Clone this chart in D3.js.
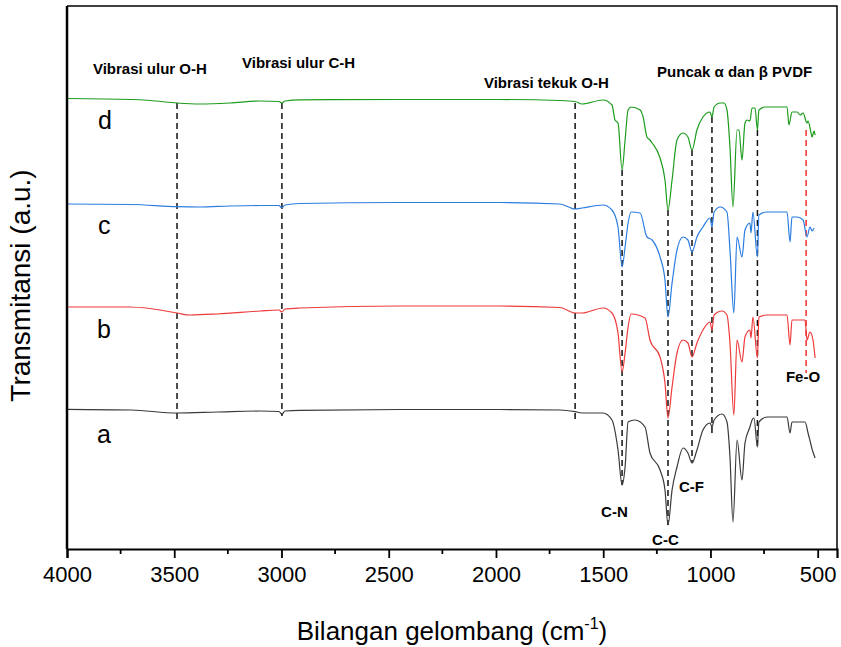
<!DOCTYPE html>
<html>
<head>
<meta charset="utf-8">
<script src="https://cdn.jsdelivr.net/npm/d3@7"></script>
<style>
  body { margin: 0; background: #fff; }
  svg text { font-family: Arial, "Liberation Sans", sans-serif; }
</style>
</head>
<body>
<div id="chart"></div>
<script>
// FTIR spectra, [wavenumber, transmittance (a.u., offset)]
const specD = [[4000,4.505],[3700,4.495],[3613,4.485],[3487,4.46],[3380,4.45],[3240,4.46],[3100,4.48],[3012,4.475],[2998,4.46],[2984,4.48],[2914,4.492],[2447,4.495],[1981,4.495],[1701,4.485],[1631,4.475],[1599,4.45],[1501,4.49],[1459,4.44],[1445,4.29],[1431,4.26],[1412,3.79],[1398,4.09],[1384,4.39],[1370,4.42],[1328,4.39],[1314,4.32],[1296,4.12],[1282,4.09],[1272,4.06],[1235,3.91],[1212,3.69],[1198,3.39],[1179,3.69],[1156,4.09],[1128,4.16],[1105,4.12],[1086,3.99],[1063,4.19],[1035,4.32],[1002,4.37],[993,4.32],[983,4.42],[955,4.46],[937,4.46],[923,4.39],[909,4.02],[895,3.42],[876,4.19],[867,4.19],[853,3.89],[839,4.26],[830,4.29],[816,4.28],[806,4.41],[792,4.41],[781,4.19],[774,4.39],[746,4.42],[690,4.42],[643,4.42],[634,4.24],[620,4.37],[596,4.37],[582,4.34],[568,4.36],[550,4.26],[545,4.28],[531,4.16],[526,4.12],[517,4.18],[512,4.14]];

const specC = [[4000,3.45],[3700,3.445],[3487,3.423],[3380,3.42],[3240,3.43],[3100,3.435],[3012,3.435],[2998,3.41],[2984,3.44],[2914,3.455],[2447,3.465],[1981,3.465],[1701,3.45],[1631,3.40],[1599,3.41],[1501,3.44],[1459,3.39],[1431,3.22],[1412,2.82],[1398,3.02],[1384,3.26],[1370,3.37],[1328,3.36],[1296,3.12],[1272,3.09],[1235,2.92],[1212,2.69],[1198,2.32],[1179,2.66],[1156,2.99],[1128,3.12],[1105,3.09],[1086,2.97],[1063,3.12],[1035,3.22],[1002,3.31],[993,3.22],[983,3.37],[955,3.42],[923,3.37],[909,2.99],[891,2.36],[876,3.12],[853,2.92],[839,3.19],[816,3.26],[811,3.16],[802,3.37],[781,2.92],[774,3.34],[736,3.37],[643,3.37],[629,3.07],[620,3.32],[596,3.32],[568,3.29],[550,3.12],[536,3.22],[526,3.18],[517,3.21]];

const specB = [[4000,2.42],[3711,2.42],[3613,2.405],[3487,2.36],[3427,2.34],[3300,2.35],[3100,2.38],[3012,2.39],[2998,2.37],[2984,2.40],[2914,2.41],[2447,2.43],[1981,2.43],[1701,2.415],[1631,2.36],[1599,2.36],[1501,2.41],[1459,2.36],[1431,2.16],[1412,1.77],[1398,1.96],[1384,2.22],[1370,2.35],[1305,2.31],[1282,2.09],[1235,1.92],[1212,1.66],[1198,1.31],[1179,1.62],[1156,1.96],[1128,2.09],[1105,2.06],[1086,1.92],[1063,2.06],[1035,2.19],[1002,2.27],[993,2.19],[983,2.34],[946,2.38],[923,2.34],[909,2.06],[891,1.34],[876,2.09],[853,1.87],[839,2.12],[816,2.19],[811,2.11],[802,2.32],[781,1.91],[774,2.32],[736,2.34],[643,2.34],[629,2.04],[620,2.29],[582,2.29],[559,2.29],[550,2.09],[536,2.17],[522,2.09],[512,1.91]];

const specA = [[4000,1.397],[3700,1.39],[3487,1.36],[3300,1.37],[3100,1.38],[3012,1.375],[2998,1.347],[2984,1.38],[2914,1.387],[2447,1.395],[1981,1.395],[1701,1.39],[1631,1.373],[1599,1.36],[1501,1.36],[1459,1.29],[1431,0.99],[1412,0.64],[1398,0.82],[1384,1.27],[1352,1.29],[1305,1.22],[1282,0.96],[1235,0.79],[1212,0.59],[1198,0.24],[1179,0.59],[1156,0.82],[1128,1.01],[1105,0.96],[1086,0.86],[1063,0.99],[1035,1.19],[1002,1.26],[993,1.22],[983,1.29],[946,1.35],[923,1.27],[909,0.92],[895,0.27],[876,1.09],[853,0.69],[839,1.06],[816,1.22],[806,1.29],[797,1.31],[781,1.02],[774,1.27],[736,1.32],[643,1.32],[629,1.16],[620,1.27],[582,1.27],[559,1.27],[545,1.16],[531,1.04],[522,0.97],[512,0.91]];

const seriesNames = ["a", "b", "c", "d"];
const seriesColors = ["#3a3a3a", "#ee3b3b", "#2b7de0", "#1c9c1c"];
// label anchor for each series name [wavenumber, value]
const nameAnchors = [[3860, 1.06], [3860, 2.11], [3855, 3.15], [3855, 4.20]];

const tickValues = [4000, 3500, 3000, 2500, 2000, 1500, 1000, 500];
const minorTicks = [3750, 3250, 2750, 2250, 1750, 1250, 750];

// dashed marker lines: [wavenumber, top value, bottom value]
const markerLines = [[3487, 4.46, 1.29], [2998, 4.46, 1.33], [1631, 4.46, 1.29], [1412, 3.79, 0.64],
                     [1198, 3.39, 0.24], [1086, 3.99, 0.86], [993, 4.32, 1.16], [781, 4.19, 1.02]];
const feLine = [554, 4.19, 1.76];

// annotations: [text, wavenumber, value]
const notes = [["Vibrasi ulur O-H", 3879, 4.75], ["Vibrasi ulur C-H", 3184, 4.81],
               ["Vibrasi tekuk O-H", 2056, 4.61], ["Puncak α dan β PVDF", 1249, 4.72],
               ["Fe-O", 648, 1.67], ["C-N", 1510, 0.32], ["C-C", 1272, 0.04], ["C-F", 1147, 0.57]];

const width = 841, height = 647;
const margin = { top: 6, right: 4, bottom: 98, left: 67 };

const svg = d3.select("#chart").append("svg")
    .attr("width", width)
    .attr("height", height);

const x = d3.scaleLinear().domain([4000, 410]).range([margin.left, width - margin.right]);
const y = d3.scaleLinear().domain([0, 5.43]).range([height - margin.bottom, margin.top]);

// frame (top and right)
svg.append("path")
    .attr("d", `M${x(4000)},${y(5.43)}H${x(410)}V${y(0)}`)
    .attr("fill", "none")
    .attr("stroke", "#000")
    .attr("stroke-width", 1.5);

// dashed lines first so spectra sit on top
svg.selectAll(".mark")
    .data(markerLines)
    .enter()
    .append("line")
    .attr("x1", d => x(d[0])).attr("x2", d => x(d[0]))
    .attr("y1", d => y(d[1])).attr("y2", d => y(d[2]))
    .attr("stroke", "#111")
    .attr("stroke-width", 1.5)
    .attr("stroke-dasharray", "6,4");

svg.append("line")
    .attr("x1", x(feLine[0])).attr("x2", x(feLine[0]))
    .attr("y1", y(feLine[1])).attr("y2", y(feLine[2]))
    .attr("stroke", "#f0302d")
    .attr("stroke-width", 1.5)
    .attr("stroke-dasharray", "6,4");

const line = d3.line()
    .x(d => x(d[0]))
    .y(d => y(d[1]))
    .curve(d3.curveMonotoneX);

const allSpectra = [specA, specB, specC, specD];
svg.selectAll(".spec")
    .data(allSpectra)
    .enter()
    .append("path")
    .attr("d", line)
    .attr("fill", "none")
    .attr("stroke", (d, i) => seriesColors[i])
    .attr("stroke-width", 1.2);

// series names
svg.selectAll(".name")
    .data(seriesNames)
    .enter()
    .append("text")
    .attr("x", (d, i) => x(nameAnchors[i][0]))
    .attr("y", (d, i) => y(nameAnchors[i][1]))
    .style("font-size", "25px")
    .text(d => d);

// annotations
svg.selectAll(".note")
    .data(notes)
    .enter()
    .append("text")
    .attr("x", d => x(d[1]))
    .attr("y", d => y(d[2]))
    .style("font-size", "15px")
    .style("font-weight", "bold")
    .text(d => d[0]);

// x axis
const xAxis = svg.append("g")
    .attr("transform", `translate(0,${y(0)})`)
    .call(d3.axisBottom(x).tickValues(tickValues).tickSize(9).tickPadding(8).tickFormat(d3.format("d")));
xAxis.select(".domain").attr("stroke-width", 2.2);
xAxis.selectAll(".tick line").attr("stroke-width", 1.8);
xAxis.selectAll(".tick text")
    .style("font-size", "22px")
    .style("font-family", "Arial, 'Liberation Sans', sans-serif");

svg.append("g")
    .attr("transform", `translate(0,${y(0)})`)
    .selectAll("line")
    .data(minorTicks)
    .enter()
    .append("line")
    .attr("x1", d => x(d)).attr("x2", d => x(d))
    .attr("y1", 0).attr("y2", 5)
    .attr("stroke", "#000")
    .attr("stroke-width", 1.8);

// y axis line, no ticks
svg.append("line")
    .attr("x1", x(4000)).attr("x2", x(4000))
    .attr("y1", y(5.43)).attr("y2", y(0))
    .attr("stroke", "#000")
    .attr("stroke-width", 2.5);

// axis titles
const xTitle = svg.append("text")
    .attr("x", (x(4000) + x(410)) / 2)
    .attr("y", 640)
    .attr("text-anchor", "middle")
    .style("font-size", "26px");
xTitle.append("tspan").text("Bilangan gelombang (cm");
xTitle.append("tspan").attr("dy", -11).style("font-size", "16px").text("-1");
xTitle.append("tspan").attr("dy", 11).text(")");

svg.append("text")
    .attr("transform", `translate(30,${(y(0) + y(5.43)) / 2 + 8}) rotate(-90)`)
    .attr("text-anchor", "middle")
    .style("font-size", "28px")
    .text("Transmitansi (a.u.)");
</script>
</body>
</html>
